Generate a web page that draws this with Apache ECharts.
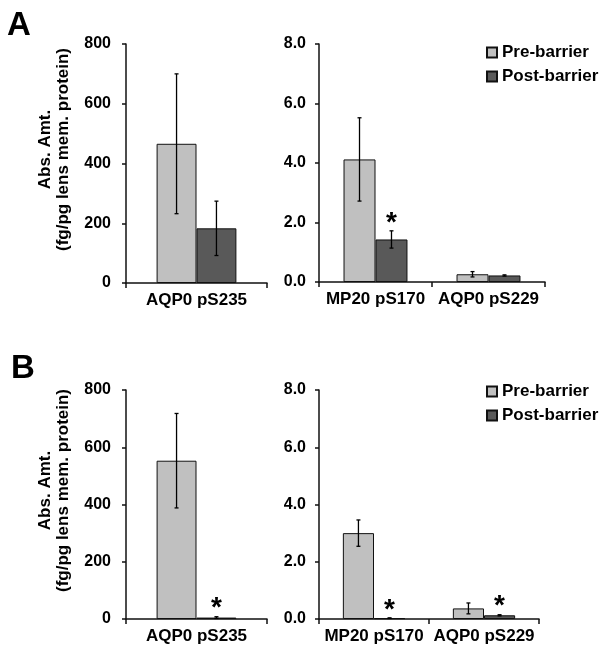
<!DOCTYPE html>
<html><head><meta charset="utf-8">
<script src="https://cdn.jsdelivr.net/npm/echarts@6/dist/echarts.min.js"></script>
<style>html,body{margin:0;padding:0;background:#fff}#c{width:604px;height:657px}</style>
</head><body><div id="c"></div>
<script>
// ---- data ----
const leftCategories = ['AQP0 pS235'];
const rightCategories = ['MP20 pS170', 'AQP0 pS229'];
const seriesNames = ['Pre-barrier', 'Post-barrier'];
const leftTicks = [0, 200, 400, 600, 800];
const rightTicks = [0, 2, 4, 6, 8];

// Panel A
const aLeftPre = [466];          const aLeftPreErr = [234];
const aLeftPost = [183];         const aLeftPostErr = [91];
const aLeftStar = [false];
const aRightPre = [4.12, 0.26];  const aRightPreErr = [1.40, 0.09];
const aRightPost = [1.43, 0.22]; const aRightPostErr = [0.29, 0.02];
const aRightStar = [true, false];
// Panel B
const bLeftPre = [553];          const bLeftPreErr = [165];
const bLeftPost = [5];           const bLeftPostErr = [3];
const bLeftStar = [true];
const bRightPre = [3.00, 0.37];  const bRightPreErr = [0.46, 0.19];
const bRightPost = [0.03, 0.13]; const bRightPostErr = [0.01, 0.02];
const bRightStar = [true, true];

// ---- layout / style ----
const FONT = 'Liberation Sans, Arial, sans-serif';
const PRE_COLOR = '#c0c0c0';
const POST_COLOR = '#595959';
const BAR_FRAC = 0.283;

const panels = [
  {grid: {left: 126, top: 44, width: 141, height: 239}, cats: leftCategories, ticks: leftTicks, dec: 0,
   pre: aLeftPre, preErr: aLeftPreErr, post: aLeftPost, postErr: aLeftPostErr, star: aLeftStar, name: true, margin: 15},
  {grid: {left: 319, top: 44, width: 226, height: 238}, cats: rightCategories, ticks: rightTicks, dec: 1,
   pre: aRightPre, preErr: aRightPreErr, post: aRightPost, postErr: aRightPostErr, star: aRightStar, name: false, margin: 13},
  {grid: {left: 126, top: 390, width: 141, height: 229}, cats: leftCategories, ticks: leftTicks, dec: 0,
   pre: bLeftPre, preErr: bLeftPreErr, post: bLeftPost, postErr: bLeftPostErr, star: bLeftStar, name: true, margin: 15},
  {grid: {left: 319, top: 390, width: 220, height: 229}, cats: rightCategories, ticks: rightTicks, dec: 1,
   pre: bRightPre, preErr: bRightPreErr, post: bRightPost, postErr: bRightPostErr, star: bRightStar, name: false, margin: 13}
];

const axisLine = {show: true, lineStyle: {color: '#111', width: 1.5}};
const grids = [], xAxes = [], yAxes = [], series = [];

panels.forEach((p, i) => {
  grids.push(Object.assign({containLabel: false}, p.grid));
  xAxes.push({
    type: 'category', gridIndex: i, data: p.cats,
    axisLine: axisLine,
    axisTick: {show: true, inside: false, length: 5, alignWithLabel: false, lineStyle: {color: '#111', width: 1.5}},
    axisLabel: {color: '#000', fontFamily: FONT, fontWeight: 'bold', fontSize: 17, margin: 9, interval: 0},
    splitLine: {show: false}
  });
  yAxes.push({
    type: 'value', gridIndex: i,
    min: p.ticks[0], max: p.ticks[p.ticks.length - 1], interval: p.ticks[1] - p.ticks[0],
    axisLine: axisLine,
    axisTick: {show: true, inside: false, length: 4, lineStyle: {color: '#111', width: 1.5}},
    axisLabel: {color: '#000', fontFamily: FONT, fontWeight: 'bold', fontSize: 16, margin: p.margin,
      formatter: v => v.toFixed(p.dec)},
    splitLine: {show: false},
    name: p.name ? 'Abs. Amt.\n(fg/pg lens mem. protein)' : '',
    nameLocation: 'middle', nameGap: 54, nameRotate: 90,
    nameTextStyle: {color: '#000', fontFamily: FONT, fontWeight: 'bold', fontSize: 17, lineHeight: 18,
      padding: [0, 0, 0, 28]}
  });
  [[p.pre, PRE_COLOR], [p.post, POST_COLOR]].forEach((s, k) => {
    series.push({
      type: 'bar', name: seriesNames[k], xAxisIndex: i, yAxisIndex: i,
      data: s[0], barWidth: (BAR_FRAC * 100) + '%', barGap: '0%',
      itemStyle: {color: s[1], borderColor: '#111', borderWidth: 1},
      emphasis: {disabled: true}, silent: true
    });
  });
  const errData = [];
  p.cats.forEach((c, ci) => {
    errData.push([ci, p.pre[ci], p.preErr[ci], 0, 0]);
    errData.push([ci, p.post[ci], p.postErr[ci], 1, p.star[ci] ? 1 : 0]);
  });
  series.push({
    type: 'custom', xAxisIndex: i, yAxisIndex: i, data: errData, clip: false, silent: true, z: 5,
    encode: {x: 0, y: 1},
    renderItem: (params, api) => {
      const ci = api.value(0), v = api.value(1), e = api.value(2), side = api.value(3), st = api.value(4);
      const band = api.size([1, 0])[0];
      const bw = band * BAR_FRAC;
      const c = api.coord([ci, v]);
      const x = c[0] + (side === 0 ? -bw / 2 : bw / 2);
      const hi = api.coord([ci, v + e])[1];
      const lo = api.coord([ci, Math.max(v - e, 0)])[1];
      const ls = {stroke: '#000', lineWidth: 1.3};
      const children = [
        {type: 'line', shape: {x1: x, y1: hi, x2: x, y2: lo}, style: ls},
        {type: 'line', shape: {x1: x - 2, y1: hi, x2: x + 2, y2: hi}, style: ls},
        {type: 'line', shape: {x1: x - 2, y1: lo, x2: x + 2, y2: lo}, style: ls}
      ];
      if (st) {
        children.push({type: 'text', x: x, y: hi - 8,
          style: {text: '*', fill: '#000', font: 'bold 28px ' + FONT, align: 'center', verticalAlign: 'middle'}});
      }
      return {type: 'group', children: children};
    }
  });
});

const legendCommon = {
  orient: 'vertical', left: 486, padding: 0, itemWidth: 10, itemHeight: 10, itemGap: 7, itemTextGap: 1,
  icon: 'rect', selectedMode: false, data: seriesNames,
  textStyle: {color: '#000', fontFamily: FONT, fontWeight: 'bold', fontSize: 17, lineHeight: 17}
};

const option = {
  animation: false,
  backgroundColor: '#fff',
  grid: grids, xAxis: xAxes, yAxis: yAxes, series: series,
  legend: [Object.assign({top: 44}, legendCommon), Object.assign({top: 383}, legendCommon)],
  graphic: [
    {type: 'text', left: 7, top: 9, style: {text: 'A', fill: '#000', font: 'bold 33px ' + FONT}},
    {type: 'text', left: 11, top: 352, style: {text: 'B', fill: '#000', font: 'bold 33px ' + FONT}}
  ]
};
echarts.init(document.getElementById('c'), null, {renderer: 'canvas'}).setOption(option);
</script>
</body></html>
